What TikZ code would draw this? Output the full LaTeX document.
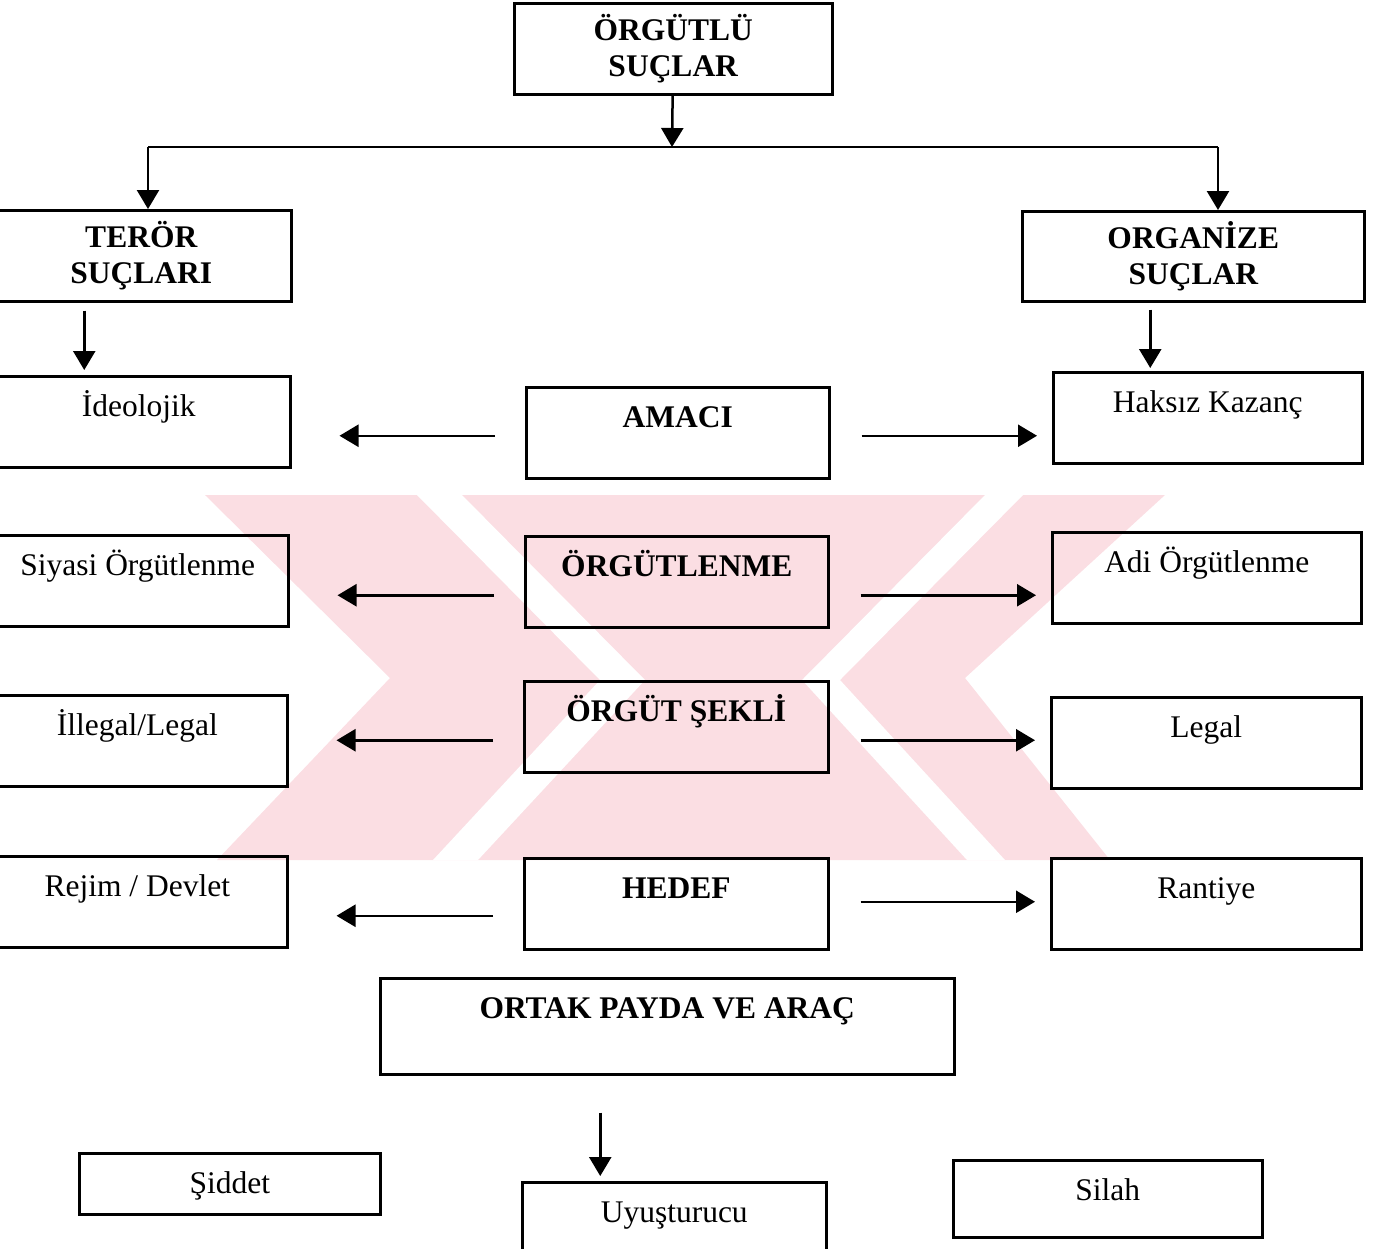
\documentclass[tikz,border=0pt]{standalone}
\usepackage{fontspec}
\setmainfont{Liberation Serif}
\usetikzlibrary{arrows.meta}
\definecolor{wmpink}{RGB}{251,222,227}

\begin{document}
\begin{tikzpicture}[x=1pt,y=-1pt,
	box/.style={draw, line width=2.5pt, inner sep=0pt, anchor=north west, text height=40pt, text depth=51pt, font=\fontsize{31.5pt}{36pt}\selectfont},
	bold/.style={box, font=\fontsize{31.5pt}{36pt}\selectfont\bfseries},
	head/.style={draw, line width=2.5pt, inner sep=0pt, anchor=north west, align=center, font=\fontsize{31.5pt}{36pt}\selectfont\bfseries},
	arr/.style={line width=2.5pt, -{Triangle[length=19pt,width=22pt]}},
	gapl/.style={arr, shorten <=30pt, shorten >=48pt},
	gapr/.style={arr, shorten <=31pt, shorten >=15pt},
	wmark/.style={fill=wmpink, draw=none}]
	\clip (0,0) rectangle (1379,1248);
	\begin{scope}
		\clip (205,495) rectangle (1165,860);
		\fill[wmark] (205,495) -- (1165,495) -- (965,678) -- (1110,860) -- (217,860) -- (390,678) -- cycle;
		\fill[white] (417,495) -- (462,495) -- (645,680) -- (478,860) -- (433,860) -- (600,680) -- cycle;
		\fill[white] (1023,495) -- (985,495) -- (802,680) -- (967,860) -- (1005,860) -- (840,680) -- cycle;
	\end{scope}
	\node[head, minimum width=318pt, minimum height=91pt] (orgutlu) at (513,2) {ÖRGÜTLÜ\\SUÇLAR};
	\node[head, minimum width=300pt, minimum height=91pt] (teror) at (-10,209) {TERÖR\\SUÇLARI};
	\node[head, minimum width=342pt, minimum height=90pt] (organize) at (1021,210) {ORGANİZE\\SUÇLAR};
	\node[box, minimum width=303pt] (ideolojik) at (-14,375) {İdeolojik};
	\node[bold, minimum width=303pt] (amaci) at (525,386) {AMACI};
	\node[box, minimum width=309pt] (haksiz) at (1052,371) {Haksız Kazanç};
	\node[box, minimum width=301pt] (siyasi) at (-14,534) {Siyasi Örgütlenme};
	\node[bold, minimum width=303pt] (orgutlenme) at (524,535) {ÖRGÜTLENME};
	\node[box, minimum width=309pt] (adi) at (1051,531) {Adi Örgütlenme};
	\node[box, minimum width=300pt] (illegal) at (-14,694) {İllegal/Legal};
	\node[bold, minimum width=304pt] (sekli) at (523,680) {ÖRGÜT ŞEKLİ};
	\node[box, minimum width=310pt] (legal) at (1050,696) {Legal};
	\node[box, minimum width=300pt] (rejim) at (-14,855) {Rejim / Devlet};
	\node[bold, minimum width=304pt] (hedef) at (523,857) {HEDEF};
	\node[box, minimum width=310pt] (rantiye) at (1050,857) {Rantiye};
	\node[bold, minimum width=574pt, text depth=56pt] (ortak) at (379,977) {ORTAK PAYDA VE ARAÇ};
	\node[box, minimum width=301pt, text depth=21pt] (siddet) at (78,1152) {Şiddet};
	\node[box, minimum width=304pt] (uyus) at (521,1181) {Uyuşturucu};
	\node[box, minimum width=309pt, text depth=37pt] (silah) at (952,1159) {Silah};
	\coordinate (split) at (672,147);
	\coordinate (tl) at (148,147);
	\coordinate (tr) at (1218,147);
	\draw[arr] (orgutlu) -- (split);
	\draw[line width=2.5pt] (tl) -- (tr);
	\draw[arr] (tl) -- (tl |- teror.north);
	\draw[arr] (tr) -- (tr |- organize.north);
	\draw[arr, shorten <=8pt, shorten >=5pt] ([xshift=-57pt]teror.south) -- ([xshift=-57pt]teror.south |- ideolojik.north);
	\draw[arr, shorten <=7pt, shorten >=3pt] ([xshift=-43pt]organize.south) -- ([xshift=-43pt]organize.south |- haksiz.north);
	\draw[gapl] ([yshift=-3pt]amaci.west) -- ([yshift=-3pt]amaci.west -| ideolojik.east);
	\draw[gapr] ([yshift=-3pt]amaci.east) -- ([yshift=-3pt]amaci.east -| haksiz.west);
	\draw[gapl] ([yshift=-13.5pt]orgutlenme.west) -- ([yshift=-13.5pt]orgutlenme.west -| siyasi.east);
	\draw[gapr] ([yshift=-13.5pt]orgutlenme.east) -- ([yshift=-13.5pt]orgutlenme.east -| adi.west);
	\draw[gapl] ([yshift=-13.5pt]sekli.west) -- ([yshift=-13.5pt]sekli.west -| illegal.east);
	\draw[gapr] ([yshift=-13.5pt]sekli.east) -- ([yshift=-13.5pt]sekli.east -| legal.west);
	\draw[gapl] ([yshift=-12pt]hedef.west) -- ([yshift=-12pt]hedef.west -| rejim.east);
	\draw[gapr] ([yshift=2pt]hedef.east) -- ([yshift=2pt]hedef.east -| rantiye.west);
	\draw[arr, shorten <=37pt, shorten >=5pt] ([xshift=-67pt]ortak.south) -- ([xshift=-67pt]ortak.south |- uyus.north);
\end{tikzpicture}
\end{document}
